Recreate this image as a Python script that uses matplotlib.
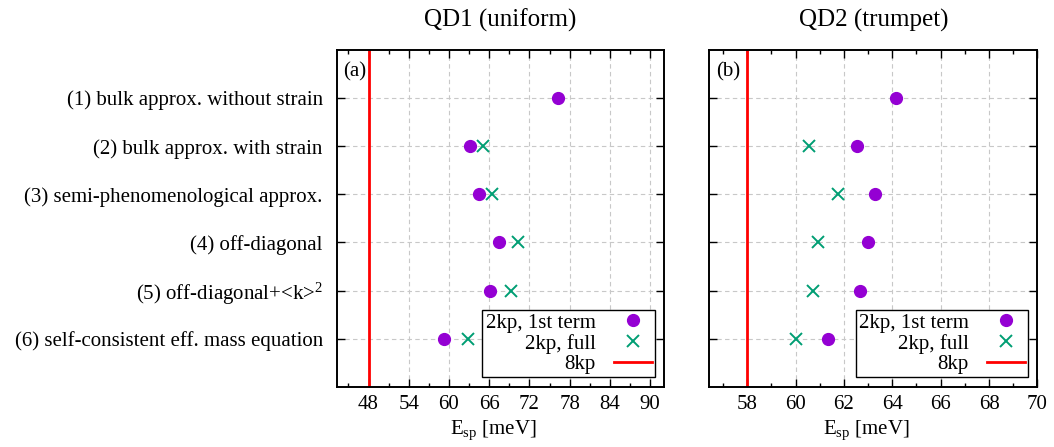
import matplotlib
matplotlib.use('Agg')
import matplotlib.pyplot as plt
from matplotlib.ticker import MultipleLocator

# ---- data ----
methods = ['(1) bulk approx. without strain',
           '(2) bulk approx. with strain',
           '(3) semi-phenomenological approx.',
           '(4) off-diagonal',
           '(5) off-diagonal+<k>$^2$',
           '(6) self-consistent eff. mass equation']

qd1_first = [76.3, 63.2, 64.5, 67.5, 66.1, 59.3]
qd1_full = [None, 65.1, 66.4, 70.3, 69.3, 62.8]
qd1_8kp = 48.1

qd2_first = [64.16, 62.53, 63.29, 63.01, 62.67, 61.33]
qd2_full = [None, 60.57, 61.74, 60.94, 60.73, 60.02]
qd2_8kp = 58.0

titles = ['QD1 (uniform)', 'QD2 (trumpet)']
panel_tags = ['(a)', '(b)']
xlims = [(43.25, 92.1), (56.43, 70.0)]
xmajor = [6, 2]
xminor = [3, 1]

plt.rcParams['font.family'] = ['Liberation Serif', 'DejaVu Serif']
plt.rcParams['mathtext.fontset'] = 'custom'
plt.rcParams['mathtext.rm'] = 'Liberation Serif'
plt.rcParams['mathtext.it'] = 'Liberation Serif:italic'
plt.rcParams['font.size'] = 15

fig = plt.figure(figsize=(10.54, 4.47), dpi=100)
axes = [fig.add_axes([0.3194, 0.1349, 0.3108, 0.7532]),
        fig.add_axes([0.673, 0.1349, 0.3112, 0.7532])]

ypos = list(range(len(methods), 0, -1))

data = [(qd1_first, qd1_full, qd1_8kp), (qd2_first, qd2_full, qd2_8kp)]

for i, ax in enumerate(axes):
    first, full, kp8 = data[i]
    ax.plot(first, ypos, 'o', color='#9400d3', ms=8.5, ls='none',
            label='2kp, 1st term', zorder=3)
    fy = [y for y, v in zip(ypos, full) if v is not None]
    fx = [v for v in full if v is not None]
    ax.plot(fx, fy, 'x', color='#009e73', ms=9, mew=1.4, ls='none',
            label='2kp, full', zorder=3)
    ax.axvline(kp8, color='red', lw=2, label='8kp', zorder=2)

    ax.set_xlim(*xlims[i])
    ax.set_ylim(0, len(methods) + 1)
    ax.xaxis.set_major_locator(MultipleLocator(xmajor[i]))
    ax.xaxis.set_minor_locator(MultipleLocator(xminor[i]))
    ax.set_yticks(ypos)
    if i == 0:
        ax.set_yticklabels(methods)
    else:
        ax.set_yticklabels([])
    ax.tick_params(which='both', direction='in', top=True, right=True,
                   width=1.0)
    ax.tick_params(which='major', length=6, pad=6)
    ax.tick_params(which='minor', length=3)
    ax.tick_params(axis='y', pad=10)
    for s in ax.spines.values():
        s.set_linewidth(1.4)
    ax.grid(True, which='major', color='#c8c8c8', ls=(0, (4, 3)), lw=0.8)
    ax.set_axisbelow(True)

    ax.set_title(titles[i], pad=17)
    ax.set_xlabel(r'E$_{\rm sp}$ [meV]')
    ax.xaxis.set_label_coords(0.477, -0.095)
    ax.text(0.02, 0.935, panel_tags[i], transform=ax.transAxes,
            ha='left', va='center')

    leg = ax.legend(loc='lower right', markerfirst=False, fancybox=False,
                    framealpha=1, edgecolor='black', borderaxespad=0.45,
                    handlelength=1.8, handletextpad=0.9, labelspacing=0.05,
                    borderpad=0.15)
    leg.get_frame().set_linewidth(1.0)

fig.savefig('out.png', dpi=100)
